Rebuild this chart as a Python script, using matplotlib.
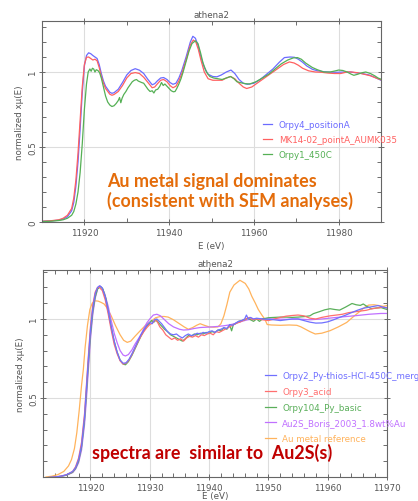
import matplotlib
matplotlib.use("Agg")
import matplotlib.pyplot as plt
from matplotlib.ticker import MultipleLocator
from matplotlib.lines import Line2D

# ---------------- data: top panel ----------------
top_title = "athena2"
top_xlabel = "E (eV)"
ylabel = "normalized x\u03bc(E)"
top_xticks = [11920, 11940, 11960, 11980]
top_yticks = [0, 0.5, 1]
top_ytick_labels = ["0", "0.5", "1"]

top_labels = ["Orpy4_positionA", "MK14-02_pointA_AUMK035", "Orpy1_450C"]

e_top_blue = [11910, 11912, 11914, 11915, 11916, 11917, 11917.5, 11918, 11918.5, 11919, 11919.5, 11920,
              11920.5, 11921, 11921.5, 11922, 11922.5, 11923, 11923.5, 11924, 11924.5, 11925, 11926, 11926.5,
              11927, 11928, 11929, 11930, 11931, 11932, 11933, 11934, 11935, 11936, 11936.6, 11937.2, 11938,
              11938.7, 11939.5, 11940.2, 11940.9, 11941.6, 11942.3, 11943, 11944, 11945, 11945.6, 11946.2,
              11946.8, 11947.5, 11948.3, 11949.2, 11950.3, 11951.3, 11952.3, 11953.5, 11954.6, 11955.5,
              11956.5, 11957.5, 11958.5, 11960, 11961.5, 11963, 11964.5, 11966, 11967.2, 11968.5, 11969.6,
              11970.5, 11971.5, 11972.5, 11973.8, 11975, 11976.5, 11978, 11979.3, 11980.5, 11981.5, 11982.8,
              11984, 11985.5, 11987.2, 11988.5, 11990]
y_top_blue = [0.005, 0.007, 0.012, 0.02, 0.035, 0.075, 0.13, 0.24, 0.40, 0.62, 0.86, 1.04,
              1.11, 1.128, 1.122, 1.11, 1.10, 1.09, 1.05, 0.99, 0.94, 0.905, 0.865, 0.858,
              0.862, 0.885, 0.93, 0.98, 1.01, 1.022, 1.012, 0.99, 0.95, 0.915, 0.922, 0.94, 0.96,
              0.963, 0.95, 0.93, 0.918, 0.925, 0.96, 1.01, 1.10, 1.20, 1.238, 1.225,
              1.18, 1.10, 1.03, 0.985, 0.97, 0.968, 0.98, 1.0, 1.013, 0.99,
              0.95, 0.925, 0.918, 0.925, 0.95, 0.985, 1.02, 1.065, 1.096, 1.10, 1.098,
              1.085, 1.065, 1.04, 1.018, 1.008, 1.002, 0.999, 0.998, 0.999, 1.0, 1.0,
              0.995, 0.99, 0.98, 0.965, 0.945]

e_top_red = [11910, 11912, 11914, 11915, 11916, 11917, 11917.5, 11918, 11918.5, 11919, 11919.5, 11920,
             11920.5, 11921, 11921.5, 11922, 11922.5, 11923, 11923.5, 11924, 11924.5, 11925, 11926, 11926.5,
             11927, 11928, 11929, 11930, 11931, 11932, 11933, 11934, 11935, 11936, 11936.6, 11937.2, 11938,
             11938.7, 11939.5, 11940.2, 11940.9, 11941.6, 11942.3, 11943, 11944, 11945, 11945.7, 11946.3,
             11946.9, 11947.5, 11948.3, 11949.2, 11950.3, 11951.3, 11952.5, 11953.5, 11954.5, 11955.5,
             11956.5, 11957.5, 11958.3, 11959.5, 11961, 11962.5, 11964, 11965.5, 11967, 11968.4, 11969.5,
             11970.5, 11971.5, 11972.9, 11974.5, 11976, 11977.5, 11979, 11980.5, 11982, 11983, 11984.5,
             11986, 11987.5, 11989, 11990]
y_top_red = [0.005, 0.008, 0.015, 0.025, 0.045, 0.09, 0.16, 0.28, 0.46, 0.68, 0.90, 1.05,
             1.098, 1.10, 1.09, 1.08, 1.085, 1.075, 1.03, 0.97, 0.925, 0.89, 0.852, 0.845,
             0.85, 0.87, 0.91, 0.96, 0.99, 0.996, 0.99, 0.965, 0.93, 0.895, 0.9, 0.92, 0.945,
             0.95, 0.935, 0.91, 0.895, 0.905, 0.94, 0.99, 1.08, 1.18, 1.213, 1.2,
             1.15, 1.08, 1.0, 0.955, 0.945, 0.945, 0.945, 0.96, 0.97, 0.955,
             0.925, 0.9, 0.89, 0.9, 0.93, 0.96, 0.99, 1.02, 1.05, 1.067, 1.06,
             1.045, 1.025, 1.008, 1.0, 0.998, 0.993, 0.99, 0.99, 1.0, 1.0, 0.995,
             0.985, 0.975, 0.958, 0.948]

e_top_green = [11910, 11912, 11914, 11915, 11916, 11917, 11917.5, 11918, 11918.5, 11919, 11919.5, 11920,
               11920.5, 11920.9, 11921.3, 11921.6, 11921.9, 11922.2, 11922.5, 11922.8, 11923.2, 11923.6,
               11924, 11924.5, 11925, 11925.5, 11926, 11926.5, 11927, 11927.5, 11928, 11928.3, 11928.6,
               11928.9, 11929.3, 11929.8, 11930.3, 11930.8, 11931.3, 11931.8, 11932.3, 11932.7, 11933.1,
               11933.5, 11934, 11934.5, 11935, 11935.5, 11936, 11936.4, 11936.8, 11937.3, 11937.8, 11938.2,
               11938.6, 11939, 11939.5, 11940, 11940.5, 11941, 11941.4, 11941.8, 11942.3, 11942.8, 11943.3,
               11944, 11944.7, 11945.4, 11946.2, 11946.8, 11947.4, 11948, 11948.8, 11949.6, 11950.5, 11951.5,
               11952.5, 11953.5, 11954.5, 11955.3, 11956, 11957, 11958, 11959, 11960.5, 11962, 11963.5,
               11965, 11966.5, 11968, 11969.3, 11970.3, 11971.2, 11972.2, 11973.8, 11975, 11976.5, 11978,
               11979.3, 11980, 11981, 11982, 11983, 11983.6, 11984.5, 11985.5, 11986.4, 11987.5, 11988.5,
               11989.3, 11990]
y_top_green = [0.003, 0.005, 0.01, 0.015, 0.025, 0.045, 0.07, 0.12, 0.2, 0.33, 0.52, 0.75,
               0.92, 1.0, 1.02, 1.005, 1.025, 1.02, 1.0, 1.015, 1.01, 0.995,
               0.96, 0.9, 0.84, 0.8, 0.78, 0.77, 0.775, 0.79, 0.81, 0.83, 0.795,
               0.825, 0.85, 0.87, 0.895, 0.915, 0.935, 0.945, 0.95, 0.94, 0.935,
               0.93, 0.925, 0.905, 0.885, 0.87, 0.875, 0.86, 0.88, 0.885, 0.905, 0.93,
               0.91, 0.92, 0.905, 0.89, 0.875, 0.868, 0.87, 0.89, 0.92, 0.955, 1.0,
               1.07, 1.14, 1.19, 1.208, 1.19, 1.13, 1.06, 1.0, 0.97, 0.96, 0.955,
               0.95, 0.96, 0.97, 0.955, 0.935, 0.928, 0.922, 0.92, 0.935, 0.96, 0.985,
               1.02, 1.055, 1.08, 1.094, 1.096, 1.085, 1.06, 1.03, 1.015, 1.0, 1.0,
               1.008, 1.013, 1.01, 1.0, 0.985, 0.978, 0.985, 0.995, 1.0, 0.99, 0.975,
               0.96, 0.952]

# ---------------- data: bottom panel ----------------
bot_title = "athena2"
bot_xlabel = "E (eV)"
bot_xticks = [11920, 11930, 11940, 11950, 11960, 11970]
bot_yticks = [0.5, 1]
bot_ytick_labels = ["0.5", "1"]

bot_labels = ["Orpy2_Py-thios-HCl-450C_merge", "Orpy3_acid", "Orpy104_Py_basic",
              "Au2S_Boris_2003_1.8wt%Au", "Au metal reference"]

e_bot_blue = [11912.5, 11914, 11915, 11916, 11917, 11917.5, 11918, 11918.5, 11919, 11919.3, 11919.6, 11920,
              11920.4, 11920.8, 11921.2, 11921.6, 11922, 11922.5, 11923, 11923.5, 11924, 11924.5, 11925,
              11925.5, 11926, 11926.5, 11927, 11927.5, 11928, 11928.5, 11929, 11929.5, 11930, 11930.4,
              11930.8, 11931.2, 11931.6, 11932, 11932.5, 11933, 11933.5, 11934, 11934.5, 11935, 11935.5,
              11936, 11936.5, 11937, 11937.5, 11938, 11938.5, 11939, 11939.5, 11940, 11940.5, 11941, 11941.5,
              11942, 11942.5, 11943, 11943.5, 11944, 11944.5, 11945, 11945.5, 11946, 11946.3, 11946.6, 11947,
              11947.5, 11948, 11949, 11950, 11951, 11952, 11953, 11954, 11955, 11956, 11957, 11958, 11959,
              11960, 11961, 11962, 11963, 11964, 11965, 11966, 11966.6, 11967.5, 11968.5, 11969.3, 11970]
y_bot_blue = [-0.005, 0.0, 0.005, 0.015, 0.035, 0.06, 0.11, 0.2, 0.38, 0.55, 0.72, 0.93,
              1.07, 1.16, 1.2, 1.21, 1.195, 1.14, 1.05, 0.95, 0.86, 0.79, 0.74,
              0.72, 0.722, 0.745, 0.78, 0.82, 0.86, 0.9, 0.93, 0.96, 0.98, 0.97,
              0.995, 1.0, 0.985, 0.97, 0.945, 0.92, 0.905, 0.9, 0.905, 0.89, 0.88,
              0.895, 0.905, 0.895, 0.9, 0.91, 0.905, 0.915, 0.91, 0.92, 0.925, 0.915, 0.93,
              0.935, 0.945, 0.94, 0.965, 0.96, 0.975, 0.985, 0.99, 1.0, 1.025, 1.0, 1.01,
              1.0, 1.005, 1.0, 0.998, 0.995, 0.99, 0.995, 1.0, 1.0, 0.99, 0.98, 0.974, 0.975,
              0.982, 0.995, 1.01, 1.024, 1.04, 1.055, 1.068, 1.072, 1.078, 1.085, 1.075, 1.07]

e_bot_red = [11912.5, 11914, 11915, 11916, 11917, 11917.5, 11918, 11918.5, 11919, 11919.3, 11919.6, 11920,
             11920.4, 11920.8, 11921.2, 11921.5, 11922, 11922.5, 11923, 11923.5, 11924, 11924.5, 11925,
             11925.5, 11926, 11926.5, 11927, 11927.5, 11928, 11928.5, 11929, 11929.5, 11930, 11930.5,
             11930.9, 11931.3, 11931.7, 11932.2, 11932.7, 11933.2, 11933.7, 11934.2, 11934.7, 11935.2,
             11935.7, 11936.2, 11936.7, 11937.2, 11937.7, 11938.2, 11938.7, 11939.2, 11939.7, 11940.2,
             11940.7, 11941.2, 11941.7, 11942.2, 11942.7, 11943.2, 11943.7, 11944.2, 11944.7, 11945.2,
             11945.7, 11946.2, 11946.8, 11947.4, 11948, 11949, 11950, 11951, 11952, 11953, 11954, 11955,
             11956, 11957, 11958, 11959, 11960.4, 11961.5, 11962.5, 11963.5, 11964.5, 11965.5, 11966.5,
             11967.5, 11968.5, 11969.3, 11970]
y_bot_red = [-0.005, 0.0, 0.005, 0.015, 0.035, 0.065, 0.12, 0.22, 0.4, 0.57, 0.74, 0.95,
             1.09, 1.17, 1.2, 1.2, 1.18, 1.12, 1.03, 0.93, 0.84, 0.78, 0.735,
             0.715, 0.72, 0.74, 0.775, 0.815, 0.855, 0.89, 0.92, 0.945, 0.965, 0.975,
             0.995, 0.98, 0.95, 0.93, 0.9, 0.885, 0.87, 0.88, 0.865, 0.875,
             0.86, 0.88, 0.89, 0.885, 0.895, 0.885, 0.9, 0.895, 0.905, 0.91,
             0.9, 0.92, 0.915, 0.925, 0.935, 0.945, 0.955, 0.965, 0.975, 0.98,
             0.99, 1.0, 1.01, 0.995, 1.0, 0.995, 0.99, 1.0, 1.01, 1.018, 1.022, 1.025,
             1.02, 1.005, 1.0, 1.01, 1.02, 1.025, 1.03, 1.04, 1.045, 1.05, 1.055,
             1.065, 1.07, 1.075, 1.07]

e_bot_green = [11912.5, 11914, 11915, 11916, 11917, 11917.5, 11918, 11918.5, 11919, 11919.3, 11919.6, 11920,
               11920.4, 11920.8, 11921.2, 11921.7, 11922.1, 11922.6, 11923, 11923.5, 11924, 11924.5, 11925,
               11925.5, 11925.9, 11926.4, 11927, 11927.5, 11928, 11928.5, 11929, 11929.5, 11930, 11930.3,
               11930.7, 11931.1, 11931.5, 11932, 11932.5, 11933, 11933.5, 11934, 11934.5, 11935, 11935.5,
               11936, 11936.5, 11937, 11937.5, 11938, 11938.5, 11939, 11939.5, 11940, 11940.5, 11941,
               11941.5, 11942, 11942.5, 11943, 11943.5, 11943.8, 11944.1, 11944.5, 11945, 11945.5, 11946,
               11946.5, 11947, 11947.5, 11948, 11948.5, 11949, 11950, 11951, 11952, 11953, 11954, 11955,
               11956, 11957, 11957.6, 11958.5, 11959.5, 11960.4, 11961.2, 11962, 11963, 11964.1, 11964.8,
               11965.5, 11966, 11966.6, 11967.4, 11968.2, 11969, 11970]
y_bot_green = [-0.005, 0.0, 0.004, 0.012, 0.03, 0.055, 0.1, 0.19, 0.36, 0.52, 0.69, 0.9,
               1.05, 1.14, 1.19, 1.205, 1.19, 1.13, 1.05, 0.95, 0.86, 0.79, 0.74,
               0.715, 0.71, 0.73, 0.77, 0.81, 0.85, 0.89, 0.925, 0.955, 0.975, 0.99,
               0.98, 0.995, 0.975, 0.955, 0.935, 0.92, 0.9, 0.89, 0.88, 0.87, 0.86,
               0.875, 0.895, 0.89, 0.905, 0.9, 0.91, 0.905, 0.915, 0.91, 0.92, 0.915,
               0.93, 0.925, 0.945, 0.935, 0.96, 0.925, 0.965, 0.97, 0.985, 0.99, 0.995,
               1.005, 0.995, 0.985, 1.0, 0.985, 1.0, 1.008, 1.01, 1.012, 1.012, 1.01, 1.012,
               1.015, 1.02, 1.034, 1.045, 1.058, 1.065, 1.06, 1.056, 1.075, 1.098, 1.09,
               1.086, 1.095, 1.08, 1.065, 1.07, 1.072, 1.06]

e_bot_purple = [11912.5, 11914, 11915, 11916, 11917, 11917.5, 11918, 11918.5, 11919, 11919.3, 11919.6,
                11920, 11920.4, 11920.8, 11921.2, 11921.5, 11921.9, 11922.4, 11923, 11923.5, 11924, 11924.5,
                11925, 11925.5, 11925.9, 11926.4, 11927, 11927.5, 11928, 11928.5, 11929, 11929.5, 11930,
                11930.6, 11931.2, 11931.8, 11932.5, 11933.2, 11934, 11935, 11935.7, 11936.5, 11937.5,
                11938.5, 11939.5, 11940.5, 11941.5, 11942.5, 11943.5, 11944.5, 11945.5, 11946.5, 11947.5,
                11949, 11951, 11953, 11955, 11957, 11959, 11961, 11963, 11965, 11967, 11969, 11970]
y_bot_purple = [-0.005, 0.0, 0.004, 0.012, 0.028, 0.05, 0.09, 0.17, 0.33, 0.48, 0.65,
                0.87, 1.03, 1.13, 1.19, 1.21, 1.2, 1.16, 1.08, 0.99, 0.91, 0.85,
                0.8, 0.772, 0.766, 0.775, 0.805, 0.84, 0.87, 0.9, 0.94, 0.975, 1.0,
                1.025, 1.03, 1.02, 0.995, 0.97, 0.95, 0.935, 0.93, 0.932, 0.94,
                0.946, 0.948, 0.95, 0.953, 0.957, 0.963, 0.972, 0.985, 0.995, 1.0,
                1.002, 1.0, 0.998, 1.0, 0.995, 1.0, 1.008, 1.015, 1.022, 1.03, 1.035, 1.035]

e_bot_orange = [11912.5, 11913.5, 11914.5, 11915.5, 11916.3, 11916.8, 11917.3, 11917.7, 11918.1, 11918.5,
                11918.8, 11919.1, 11919.5, 11919.9, 11920.3, 11920.8, 11921.3, 11921.8, 11922.3, 11922.8,
                11923.5, 11924.2, 11925, 11925.6, 11926.2, 11926.8, 11927.5, 11928.4, 11929.3, 11930.3,
                11931, 11931.7, 11932.4, 11933.1, 11934, 11935, 11935.8, 11936.5, 11937.2, 11937.9, 11938.5,
                11939.2, 11940, 11940.8, 11941.5, 11942, 11942.5, 11943, 11943.5, 11944.2, 11945.2, 11946.1,
                11946.7, 11947.2, 11947.8, 11948.3, 11948.9, 11949.4, 11949.8, 11950.5, 11952, 11953.5,
                11954.8, 11955.5, 11956.2, 11957, 11957.9, 11959, 11960.4, 11961.8, 11963.2, 11964.5,
                11965.5, 11966.3, 11966.9, 11967.8, 11968.6, 11969.4, 11970]
y_bot_orange = [0.0, 0.005, 0.015, 0.035, 0.07, 0.11, 0.18, 0.28, 0.42, 0.58,
                0.68, 0.82, 0.96, 1.06, 1.1, 1.115, 1.113, 1.105, 1.095, 1.07,
                1.02, 0.96, 0.9, 0.865, 0.852, 0.86, 0.89, 0.926, 0.96, 0.988,
                1.008, 1.015, 1.016, 1.012, 0.995, 0.97, 0.95, 0.935, 0.945, 0.96, 0.97,
                0.96, 0.95, 0.948, 0.95, 0.97, 1.02, 1.09, 1.17, 1.215, 1.245, 1.225,
                1.19, 1.144, 1.1, 1.06, 1.025, 0.999, 0.965, 0.962, 0.96, 0.962,
                0.96, 0.95, 0.936, 0.92, 0.905, 0.91, 0.926, 0.95, 0.978, 1.02,
                1.05, 1.075, 1.088, 1.09, 1.085, 1.08, 1.085]

note_top_1 = "Au metal signal dominates"
note_top_2 = "(consistent with SEM analyses)"
note_bot = "spectra are  similar to  Au2S(s)"

# ---------------- styling ----------------
W, H = 418, 502
fig = plt.figure(figsize=(W / 100, H / 100), dpi=100)
fig.patch.set_facecolor("white")

tick_col = "#555555"
text_col = "#555555"
grid_col = "#dddddd"
small = 6.3


def px_axes(l, t, r, b):
    return fig.add_axes([l / W, 1 - b / H, (r - l) / W, (b - t) / H])


def style_axes(ax, xmaj, xmin, ymaj, ymin):
    ax.xaxis.set_major_locator(MultipleLocator(xmaj))
    ax.xaxis.set_minor_locator(MultipleLocator(xmin))
    ax.yaxis.set_major_locator(MultipleLocator(ymaj))
    ax.yaxis.set_minor_locator(MultipleLocator(ymin))
    ax.tick_params(which="both", top=True, right=True, colors=tick_col,
                   labelsize=small, labelcolor=text_col, width=0.6)
    ax.tick_params(which="major", direction="inout", length=5)
    ax.tick_params(axis="x", which="major", pad=2)
    ax.tick_params(axis="y", which="major", pad=1)
    ax.tick_params(which="minor", direction="in", length=3)
    for s in ax.spines.values():
        s.set_color("#666666")
        s.set_linewidth(0.8)
    ax.grid(True, which="major", color=grid_col, linewidth=0.8)
    ax.set_axisbelow(True)


# top axes
ax1 = px_axes(42, 22, 381, 223)
c_top = ["#6b6bff", "#ff6060", "#55b055"]
ax1.plot(e_top_blue, y_top_blue, color=c_top[0], lw=0.9, label=top_labels[0])
ax1.plot(e_top_red, y_top_red, color=c_top[1], lw=0.9, label=top_labels[1])
ax1.plot(e_top_green, y_top_green, color=c_top[2], lw=0.9, label=top_labels[2])
ax1.set_xlim(11910, 11990)
ax1.set_ylim(0, 1.34)
style_axes(ax1, 20, 10, 0.5, 0.1)
ax1.set_xticks(top_xticks)
ax1.set_yticks(top_yticks)
ax1.set_yticklabels(top_ytick_labels, rotation=90, va="center")
ax1.set_title(top_title, fontsize=small, color=text_col, pad=3)
ax1.set_xlabel(top_xlabel, fontsize=small, color=text_col, labelpad=3)
ax1.set_ylabel(ylabel, fontsize=small, color=text_col, labelpad=3)
ax1.legend(loc="upper left", bbox_to_anchor=(263 / W, 1 - 121 / H), bbox_transform=fig.transFigure,
           frameon=False, fontsize=small, labelcolor="linecolor", handlelength=1.0,
           handletextpad=0.8, labelspacing=0.68, borderpad=0, borderaxespad=0)

# bottom axes
ax2 = px_axes(43, 271, 387, 478)
c_bot = ["#7070ff", "#ff6f6f", "#5aaf5a", "#c070ff", "#ffb35c"]
ax2.plot(e_bot_orange, y_bot_orange, color=c_bot[4], lw=0.9, zorder=2)
ax2.plot(e_bot_purple, y_bot_purple, color=c_bot[3], lw=0.9, zorder=2)
ax2.plot(e_bot_green, y_bot_green, color=c_bot[2], lw=0.9, zorder=3)
ax2.plot(e_bot_red, y_bot_red, color=c_bot[1], lw=0.9, zorder=3)
ax2.plot(e_bot_blue, y_bot_blue, color=c_bot[0], lw=0.9, zorder=3)
handles = [Line2D([], [], color=c, lw=0.9) for c in c_bot]
ax2.set_xlim(11912, 11970)
ax2.set_ylim(0, 1.31)
style_axes(ax2, 10, 2, 0.5, 0.1)
ax2.set_xticks(bot_xticks)
ax2.set_yticks(bot_yticks)
ax2.set_yticklabels(bot_ytick_labels, rotation=90, va="center")
ax2.set_title(bot_title, fontsize=small, color=text_col, pad=3)
ax2.set_xlabel(bot_xlabel, fontsize=small, color=text_col, labelpad=-1)
ax2.set_ylabel(ylabel, fontsize=small, color=text_col, labelpad=3)
leg = ax2.legend(handles, bot_labels, loc="upper left", bbox_to_anchor=(265 / W, 1 - 372 / H),
                 bbox_transform=fig.transFigure, frameon=False, fontsize=small,
                 labelcolor="linecolor", handlelength=1.3, handletextpad=0.65,
                 labelspacing=0.78, borderpad=0, borderaxespad=0)

# annotations (font size fitted to the reference text widths)
renderer = fig.canvas.get_renderer()
fam = ["Lato", "DejaVu Sans"]

t1 = fig.text(107 / W, 1 - 187 / H, note_top_1, color="#e46c0a",
              fontweight="bold", family=fam, fontsize=14, ha="left", va="baseline")
w1 = t1.get_window_extent(renderer).width
fs1 = 14 * 211 / w1
t1.set_fontsize(fs1)
t2 = fig.text(107 / W, 1 - 207 / H, note_top_2, color="#e46c0a",
              fontweight="bold", family=fam, fontsize=fs1, ha="left", va="baseline")
t3 = fig.text(92 / W, 1 - 459 / H, note_bot, color="#c00000",
              fontweight="bold", family=fam, fontsize=14, ha="left", va="baseline")
w3 = t3.get_window_extent(renderer).width
t3.set_fontsize(14 * 241 / w3)

fig.savefig("out.png", dpi=100)
